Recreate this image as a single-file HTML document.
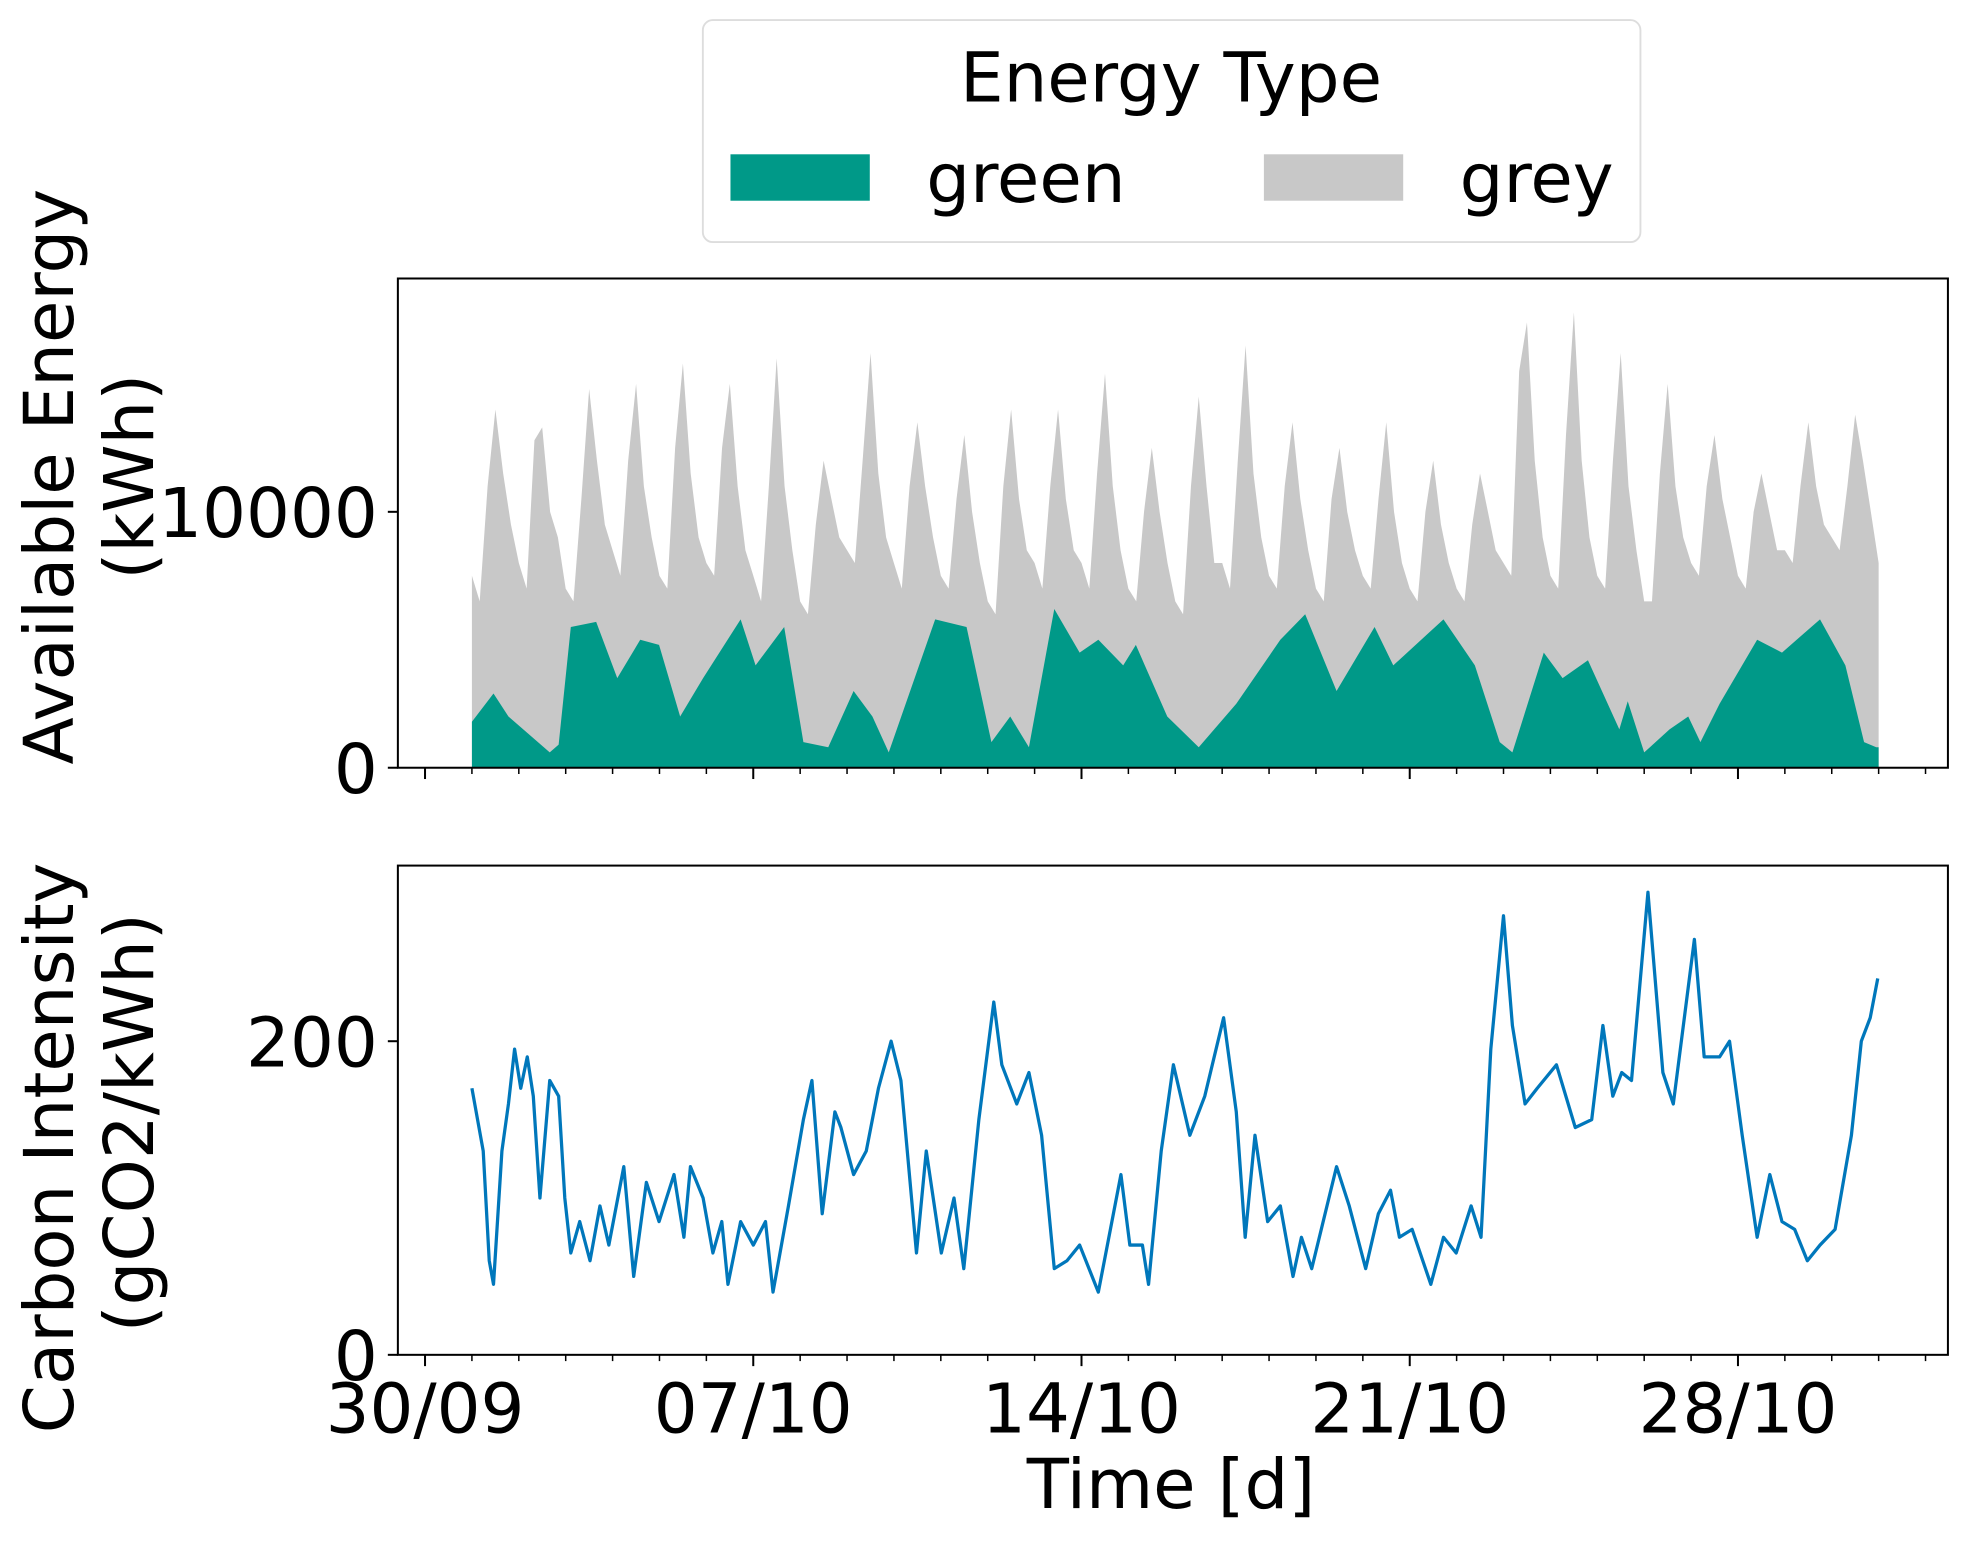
<!DOCTYPE html>
<html><head><meta charset="utf-8"><style>
html,body{margin:0;padding:0;background:#fff;}
svg{display:block;font-family:"DejaVu Sans","Liberation Sans",sans-serif;}
</style></head><body>
<svg id="chart" width="1968" height="1543" viewBox="0 0 1568 1230" preserveAspectRatio="none" xmlns="http://www.w3.org/2000/svg">
<g>
<rect x="560" y="16" width="747" height="177" rx="8" fill="#fff" stroke="#ddd" stroke-width="1.5"/>
<text x="933" y="81" font-size="55" text-anchor="middle">Energy Type</text>
<rect x="582" y="123" width="111" height="37" fill="#009988"/>
<text x="738" y="161" font-size="55">green</text>
<rect x="1007" y="123" width="111" height="37" fill="#c8c8c8"/>
<text x="1163" y="161" font-size="55">grey</text>
</g>
<g id="topG"></g>
<g id="botG"></g>
<text transform="translate(58,380) rotate(-90)" font-size="55" text-anchor="middle">Available Energy</text>
<text transform="translate(122,380) rotate(-90)" font-size="55" text-anchor="middle">(kWh)</text>
<text transform="translate(58,915) rotate(-90)" font-size="55" text-anchor="middle">Carbon Intensity</text>
<text transform="translate(122,895) rotate(-90)" font-size="55" text-anchor="middle">(gCO2/kWh)</text>
<text x="933" y="1202" font-size="55" text-anchor="middle">Time [d]</text>
</svg>
<script>
const totalDaily = [
[7500,6500,11000,14000,11500,9500],[8000,7000,12800,13300,10000,9000],[7000,6500,10500,14800,12000,9500],
[8500,7500,12000,15000,11000,9000],[7500,7000,12500,15800,11500,9000],[8000,7500,12500,15000,11000,8500],
[7500,6500,11000,16000,11000,8500],[6500,6000,9500,12000,10500,9000],[8500,8000,12000,16200,11500,9000],
[8000,7000,11000,13500,11000,9000],[7500,7000,10500,13000,10000,8000],[6500,6000,11000,14000,10500,8500],
[8000,7000,11000,14000,10500,8500],[8000,7000,11500,15400,11000,8500],[7000,6500,10000,12500,10000,8000],
[6500,6000,11000,14500,11000,8000],[8000,7000,12000,16500,11500,9000],[7500,7000,11000,13500,10500,8500],
[7000,6500,10500,12500,10000,8500],[7500,7000,10500,13500,10000,8000],[7000,6500,10000,12000,9500,8000],
[7000,6500,9500,11500,10000,8500],[8000,7500,15500,17400,12000,9000],[7500,7000,13000,17800,12000,9000],
[7500,7000,12000,16200,11000,8500],[6500,6500,11500,15000,11000,9000],[8000,7500,11000,13000,10500,9000],
[7500,7000,10000,11500,10000,8500],[8500,8000,11000,13500,11000,9500],[9000,8500,11000,13800,12000,10000]];
const totalEnd = 8000;
const greenDays = [0,0.46,0.78,1.66,1.85,2.11,2.65,3.10,3.59,3.99,4.44,4.93,5.73,6.05,6.66,7.07,7.60,8.14,8.54,8.89,9.88,10.55,11.08,11.48,11.88,12.42,12.96,13.36,13.89,14.16,14.83,15.50,16.30,17.24,17.77,18.44,19.25,19.65,20.72,21.39,21.92,22.19,22.86,23.26,23.80,24.47,24.65,25.00,25.54,25.94,26.20,26.61,27.41,27.94,28.75,29.29,29.69,29.95,30];
const greenVals = [1800,2900,2000,600,900,5500,5700,3500,5000,4800,2000,3500,5800,4000,5500,1000,800,3000,2000,600,5800,5500,1000,2000,800,6200,4500,5000,4000,4800,2000,800,2500,5000,6000,3000,5500,4000,5800,4000,1000,600,4500,3500,4200,1500,2600,600,1500,2000,1000,2500,5000,4500,5800,4000,1000,800,800];
const carbonDays = [0,0.24,0.37,0.46,0.64,0.78,0.91,1.04,1.18,1.31,1.45,1.66,1.85,1.98,2.11,2.30,2.52,2.73,2.92,3.24,3.45,3.72,3.99,4.31,4.52,4.66,4.93,5.14,5.33,5.46,5.73,6.00,6.26,6.42,6.75,7.07,7.25,7.47,7.74,7.87,8.14,8.41,8.67,8.94,9.15,9.48,9.69,10.01,10.28,10.49,10.81,11.13,11.30,11.62,11.88,12.15,12.42,12.69,12.96,13.36,13.84,14.03,14.30,14.43,14.70,14.96,15.31,15.63,16.03,16.30,16.49,16.70,16.97,17.24,17.51,17.69,17.91,18.44,18.71,19.06,19.33,19.59,19.78,20.05,20.45,20.72,20.99,21.31,21.52,21.73,22.00,22.19,22.46,22.72,23.13,23.53,23.88,24.12,24.33,24.52,24.73,25.08,25.40,25.62,26.07,26.28,26.61,26.82,27.09,27.41,27.68,27.94,28.21,28.48,28.75,29.07,29.42,29.63,29.82,29.98];
const carbonVals = [170,130,60,45,130,160,195,170,190,165,100,175,165,100,65,85,60,95,70,120,50,110,85,115,75,120,100,65,85,45,85,70,85,40,95,150,175,90,155,145,115,130,170,200,175,65,130,65,100,55,150,225,185,160,180,140,55,60,70,40,115,70,70,45,130,185,140,165,215,155,75,140,85,95,50,75,55,120,95,55,90,105,75,80,45,75,65,95,75,195,280,210,160,170,185,145,150,210,165,180,175,295,180,160,265,190,190,200,140,75,115,85,80,60,70,80,140,200,215,240];
const xTickLabels = ["30/09","07/10","14/10","21/10","28/10"];
const yTopTicks = [0,10000];
const yBotTicks = [0,200];

const NS="http://www.w3.org/2000/svg";
const L=317,R=1552;
const xs=d=>376+d*37.36;
const yT=v=>612-v*0.0204;
const yB=v=>1080-v*1.25;
function mk(tag,attrs,parent){const e=document.createElementNS(NS,tag);for(const k in attrs)e.setAttribute(k,attrs[k]);parent.appendChild(e);return e;}
const topG=document.getElementById('topG'),botG=document.getElementById('botG');

const tDays=[],tVals=[];
totalDaily.forEach((a,d)=>a.forEach((v,k)=>{tDays.push(d+k/6);tVals.push(v);}));
tDays.push(30);tVals.push(totalEnd);
function greenAt(d){for(let i=1;i<greenDays.length;i++){if(d<=greenDays[i]){const t=(d-greenDays[i-1])/(greenDays[i]-greenDays[i-1]||1);return greenVals[i-1]+t*(greenVals[i]-greenVals[i-1]);}}return greenVals[greenVals.length-1];}
let gp=`M${xs(0)},${yT(0)} `;
tDays.forEach((d,i)=>{gp+=`L${xs(d).toFixed(1)},${yT(Math.max(tVals[i],greenAt(d))).toFixed(1)} `;});
gp+=`L${xs(30)},${yT(0)}Z`;
const greyArea=mk('path',{d:gp,fill:'#c8c8c8'},topG);


let gr=`M${xs(0)},${yT(0)} `;
greenDays.forEach((d,i)=>{gr+=`L${xs(d).toFixed(1)},${yT(greenVals[i]).toFixed(1)} `;});
gr+=`L${xs(30)},${yT(0)}Z`;
const greenArea=mk('path',{d:gr,fill:'#009988'},topG);



let cp='';
carbonDays.forEach((d,i)=>{cp+=(i?'L':'M')+xs(d).toFixed(1)+','+yB(carbonVals[i]).toFixed(1)+' ';});
const line=mk('path',{d:cp,fill:'none',stroke:'#0077bb','stroke-width':2.6,'stroke-linejoin':'round'},botG);



function frame(g,t,b,yf,ticks,labels){
  const f=mk('rect',{x:L,y:t,width:R-L,height:b-t,fill:'none',stroke:'#000','stroke-width':1.6},g);
  
  
  ticks.forEach(v=>{
    mk('line',{x1:L-8,x2:L,y1:yf(v),y2:yf(v),stroke:'#000','stroke-width':1.6},g);
    const tx=mk('text',{x:L-16,y:yf(v)+20,'font-size':55,'text-anchor':'end'},g);
    tx.textContent=v;
    
    
  });
  for(let d=-1;d<=31;d++){
    const x=xs(d);if(x<L||x>R)continue;
    const major=(d+1)%7===0;
    mk('line',{x1:x,x2:x,y1:b,y2:b+(major?9:5),stroke:'#000','stroke-width':major?1.6:1.2},g);
    if(major&&labels){
      const tx=mk('text',{x:x,y:b+62,'font-size':55,'text-anchor':'middle'},g);
      tx.textContent=xTickLabels[(d+1)/7];
      
      
    }
  }
}
frame(topG,222,612,yT,yTopTicks,false);
frame(botG,690,1080,yB,yBotTicks,true);
</script>
</body></html>
